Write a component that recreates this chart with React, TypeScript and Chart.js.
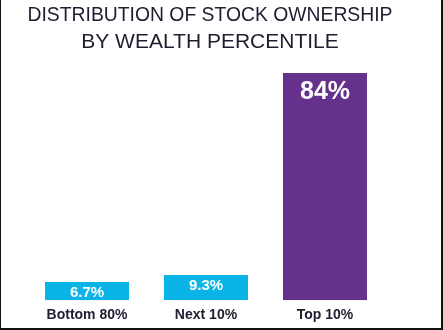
import React, { useEffect, useRef } from "react";
import { Chart, registerables } from "chart.js";

Chart.register(...registerables);

const titleLines = ["DISTRIBUTION OF STOCK OWNERSHIP", "BY WEALTH PERCENTILE"];
const categories = ["Bottom 80%", "Next 10%", "Top 10%"];
const shares = [6.7, 9.3, 84];
const valueLabels = ["6.7%", "9.3%", "84%"];
const barColors = ["#0bb4e6", "#0bb4e6", "#65318c"];

const TEXT_DARK = "#1d1e2f";
const FONT = "'Liberation Sans', Arial, sans-serif";

const valueLabelPlugin = {
  id: "valueLabels",
  afterDatasetsDraw(chart: any) {
    const ctx = chart.ctx;
    const meta = chart.getDatasetMeta(0);
    ctx.save();
    ctx.fillStyle = "#ffffff";
    ctx.textAlign = "center";
    ctx.textBaseline = "alphabetic";
    meta.data.forEach((bar: any, i: number) => {
      const h = bar.base - bar.y;
      const big = h > 100;
      const size = big ? 25 : 15;
      ctx.font = `bold ${size}px ${FONT}`;
      ctx.fillText(valueLabels[i], bar.x, bar.y + (big ? 26 : 15));
    });
    ctx.restore();
  },
};

export default function App() {
  const canvasRef = useRef<HTMLCanvasElement | null>(null);

  useEffect(() => {
    document.body.style.margin = "0";
    const canvas = canvasRef.current;
    if (!canvas) return;
    const chart = new Chart(canvas, {
      type: "bar",
      data: {
        labels: categories,
        datasets: [
          {
            data: shares,
            backgroundColor: barColors,
            borderWidth: 0,
            barPercentage: 0.706,
            categoryPercentage: 1,
          },
        ],
      },
      options: {
        animation: false,
        responsive: false,
        maintainAspectRatio: false,
        devicePixelRatio: 1,
        layout: {
          padding: { left: 27.5, right: 50.5, top: 1.5, bottom: -1 },
        },
        plugins: {
          legend: { display: false },
          tooltip: { enabled: false },
          title: {
            display: true,
            text: titleLines,
            color: TEXT_DARK,
            font: { family: FONT, size: 21, weight: "normal", lineHeight: 1.3 },
            padding: { top: 0, bottom: 16.9 },
          },
        },
        scales: {
          x: {
            grid: { display: false, drawTicks: false },
            border: { display: false },
            ticks: {
              color: TEXT_DARK,
              font: { family: FONT, size: 14, weight: "bold" },
              padding: 7,
            },
          },
          y: {
            position: "right",
            min: 0,
            max: 84,
            grid: { display: false, drawTicks: false },
            border: { display: false },
            ticks: { display: false },
            afterFit: (axis: any) => {
              axis.width = 8;
            },
          },
        },
      },
      plugins: [valueLabelPlugin],
    });
    return () => chart.destroy();
  }, []);

  return (
    <div style={{ position: "fixed", left: 0, top: 0, width: 443, height: 330, background: "#fff" }}>
      <canvas
        ref={canvasRef}
        width={443}
        height={330}
        style={{ position: "absolute", left: 0, top: 0, width: 443, height: 330 }}
      />
      <div
        style={{
          position: "absolute",
          left: 0,
          top: 0,
          width: 443,
          height: 330,
          boxSizing: "border-box",
          borderLeft: "1px solid #111",
          borderRight: "2px solid #111",
          borderBottom: "2px solid #111",
          pointerEvents: "none",
        }}
      />
    </div>
  );
}
